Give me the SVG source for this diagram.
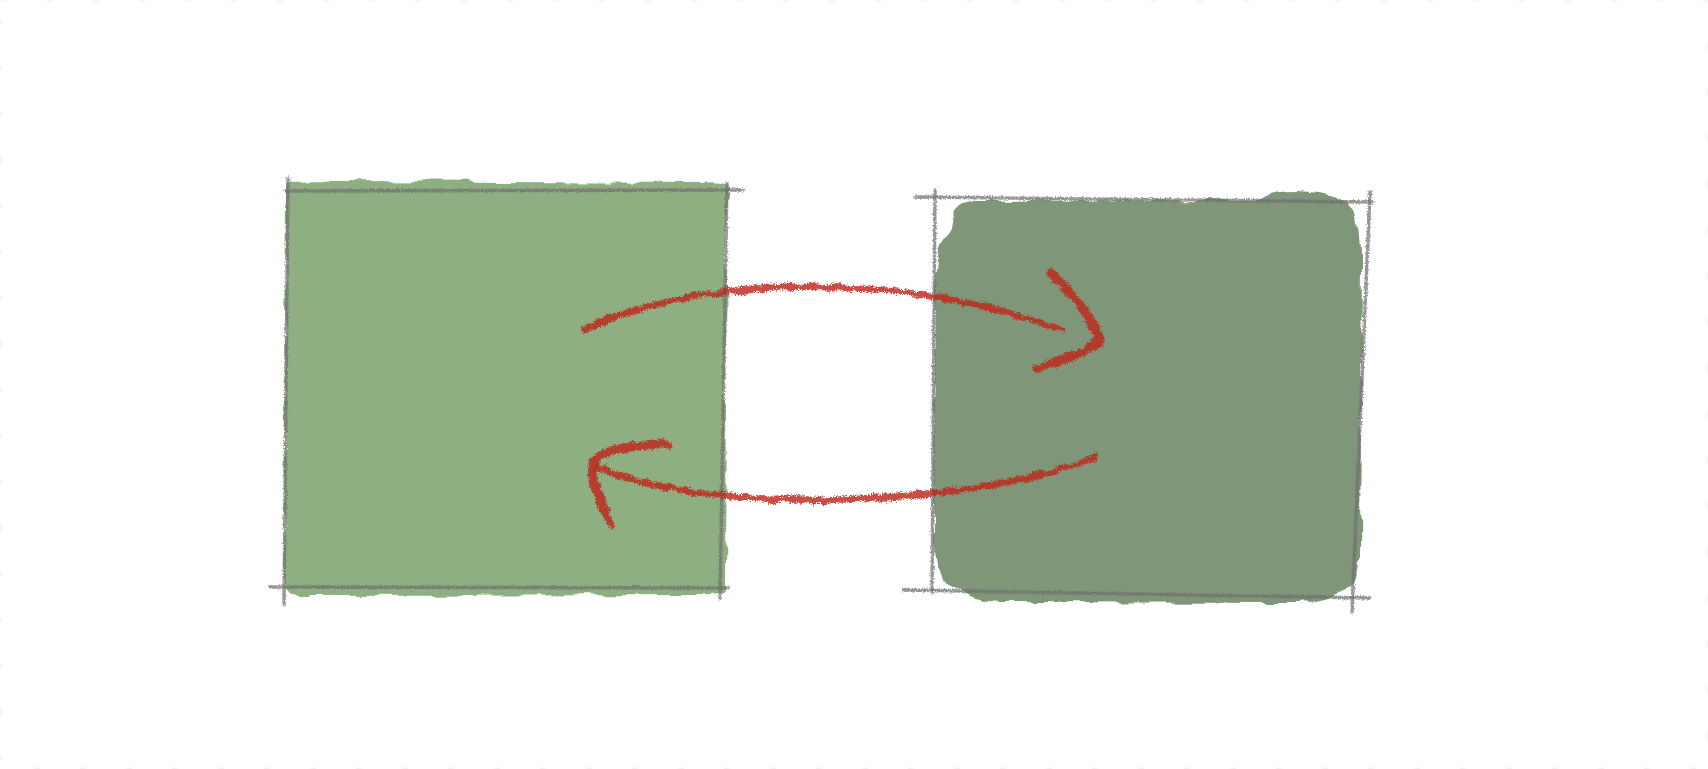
<svg xmlns="http://www.w3.org/2000/svg" width="1708" height="769" viewBox="0 0 1708 769">
  <style>
    .pencil { fill: none; stroke: #707070; stroke-width: 3.4; stroke-linecap: round; opacity: 0.72; filter: url(#pencilRough); }
    .crayon { fill: none; stroke: #c0281c; stroke-width: 6.5; stroke-linecap: round; stroke-linejoin: round; opacity: 0.82; filter: url(#crayonRough); }
    .crayon-head { stroke-width: 9; }
    .wash { filter: url(#washRough); }
  </style>
  <defs>
    <filter id="washRough" filterUnits="userSpaceOnUse" x="0" y="0" width="1708" height="769">
      <feTurbulence type="fractalNoise" baseFrequency="0.035" numOctaves="3" seed="7" result="n"/>
      <feDisplacementMap in="SourceGraphic" in2="n" scale="10" xChannelSelector="R" yChannelSelector="G"/>
    </filter>
    <filter id="pencilRough" filterUnits="userSpaceOnUse" x="0" y="0" width="1708" height="769">
      <feTurbulence type="fractalNoise" baseFrequency="0.7" numOctaves="2" seed="2" result="n"/>
      <feDisplacementMap in="SourceGraphic" in2="n" scale="4" xChannelSelector="R" yChannelSelector="G"/>
    </filter>
    <filter id="crayonRough" filterUnits="userSpaceOnUse" x="0" y="0" width="1708" height="769">
      <feTurbulence type="fractalNoise" baseFrequency="0.09" numOctaves="2" seed="11" result="w"/>
      <feDisplacementMap in="SourceGraphic" in2="w" scale="7" xChannelSelector="R" yChannelSelector="G" result="wob"/>
      <feTurbulence type="fractalNoise" baseFrequency="0.8" numOctaves="2" seed="5" result="n"/>
      <feDisplacementMap in="wob" in2="n" scale="6" xChannelSelector="R" yChannelSelector="G"/>
    </filter>
  </defs>

  <rect x="0" y="0" width="1708" height="769" fill="#ffffff"/>
  <rect x="1" y="1" width="1706" height="767" fill="none" stroke="#f3f3f3" stroke-width="1.5" stroke-dasharray="6 40"/>

  <g id="node-left">
    <path class="wash" fill="#8daf81" d="M286,186 Q300,178 330,181 L700,183 Q725,180 727,190 L725,590 Q722,596 700,595 L300,596 Q285,596 284,585 Z"/>
    <path class="pencil" d="M286,191 L743,190"/>
    <path class="pencil" d="M288,178 L284,605"/>
    <path class="pencil" d="M270,587 L728,588"/>
    <path class="pencil" d="M727,183 L720,598"/>
  </g>

  <g id="node-right">
    <path class="wash" fill="#7f9678" d="M950,232 Q952,205 975,201 L1260,200 Q1270,192 1300,192 Q1345,195 1355,210 Q1362,225 1362,260 L1360,560 Q1360,585 1340,592 Q1320,603 1300,603 L1000,602 Q960,598 945,580 Q934,568 934,545 L935,270 Q936,245 950,232 Z"/>
    <path class="pencil" d="M915,197 L1372,202"/>
    <path class="pencil" d="M935,190 L932,592"/>
    <path class="pencil" d="M1370,192 L1352,612"/>
    <path class="pencil" d="M903,590 L1370,598"/>
  </g>

  <g id="connectors">
    <path class="crayon" d="M585,329 C700,275 900,270 1062,330"/>
    <path class="crayon crayon-head" d="M1052,275 Q1085,305 1101,340 Q1075,358 1037,368"/>
    <path class="crayon" d="M1095,457 C980,505 720,518 598,468"/>
    <path class="crayon crayon-head" d="M610,523 L596,490 Q586,460 605,452 Q630,445 668,444"/>
  </g>
</svg>
